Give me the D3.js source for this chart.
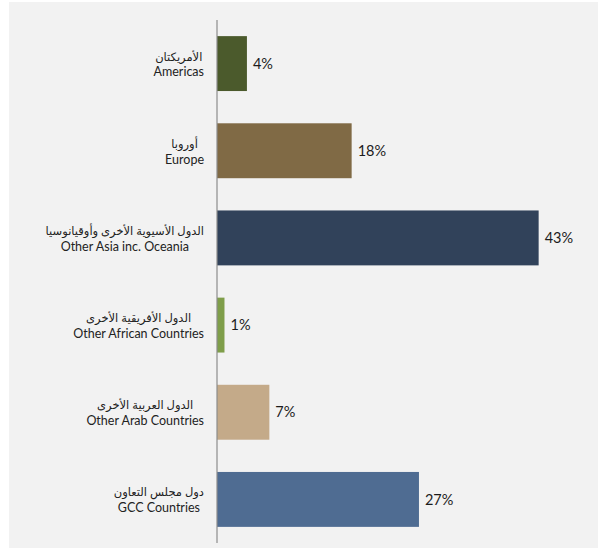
<!DOCTYPE html>
<html>
<head>
<meta charset="utf-8">
<script src="https://cdn.jsdelivr.net/npm/d3@7"></script>
<style>
  html, body { margin: 0; padding: 0; background: #ffffff; }
  svg { display: block; }
  text { font-family: Lato, "DejaVu Sans", sans-serif; }
</style>
</head>
<body>
<svg id="chart" width="603" height="555"></svg>
<script>
// Share by region (percent)
const categoriesEn = ["Americas", "Europe", "Other Asia inc. Oceania", "Other African Countries", "Other Arab Countries", "GCC Countries"];
const categoriesAr = ["الأمريكتان", "أوروبا", "الدول الأسيوية الأخرى وأوقيانوسيا", "الدول الأفريقية الأخرى", "الدول العربية الأخرى", "دول مجلس التعاون"];
const values = [4, 18, 43, 1, 7, 27];
const colors = ["#4b5a2c", "#806a45", "#31425a", "#7f9e4a", "#c4aa89", "#4f6c92"];

const svg = d3.select("#chart");

// panel background
svg.append("rect")
  .attr("x", 9).attr("y", 2)
  .attr("width", 589).attr("height", 546)
  .attr("fill", "#f2f2f2");

const x0 = 217;
const x = d3.scaleLinear().domain([0, 50]).range([x0, x0 + 374]);
const y = d3.scaleBand()
  .domain(categoriesEn)
  .range([20, 543])
  .paddingInner(0.37)
  .paddingOuter(0.185);

// bars
svg.append("g").selectAll("rect")
  .data(values)
  .join("rect")
  .attr("x", x(0))
  .attr("y", (d, i) => y(categoriesEn[i]))
  .attr("width", d => x(d) - x(0))
  .attr("height", y.bandwidth())
  .attr("fill", (d, i) => colors[i]);

// category axis line
const axis = d3.axisLeft(y).tickSize(0).tickFormat("");
const gAxis = svg.append("g").attr("transform", `translate(${x0},0)`).call(axis);
gAxis.select(".domain").attr("stroke", "#8c8c8c").attr("stroke-width", 1.2)
  .attr("d", "M0,20V543");

// value labels
svg.append("g").selectAll("text")
  .data(values)
  .join("text")
  .attr("x", d => x(d) + 6)
  .attr("y", (d, i) => y(categoriesEn[i]) + y.bandwidth() / 2)
  .attr("dy", "0.36em")
  .attr("font-size", 14.5)
  .attr("fill", "#1c1c1c")
  .text(d => d + "%");

// bilingual category labels, lines centred within a right-aligned block
const labels = svg.append("g");
categoriesEn.forEach((c, i) => {
  const cy = y(c) + y.bandwidth() / 2;
  const g = labels.append("g");
  const ar = g.append("text")
    .attr("y", cy - 7)
    .attr("dy", "0.35em")
    .attr("font-size", 11.5)
    .attr("fill", "#222222")
    .attr("text-anchor", "middle")
    .attr("direction", "rtl")
    .text(categoriesAr[i]);
  const en = g.append("text")
    .attr("y", cy + 8.5)
    .attr("dy", "0.35em")
    .attr("font-size", 12.5)
    .attr("fill", "#222222")
    .attr("text-anchor", "middle")
    .text(c);
  const w = Math.max(ar.node().getComputedTextLength(), en.node().getComputedTextLength());
  const center = 204 - w / 2;
  ar.attr("x", center);
  en.attr("x", center);
});
</script>
</body>
</html>
